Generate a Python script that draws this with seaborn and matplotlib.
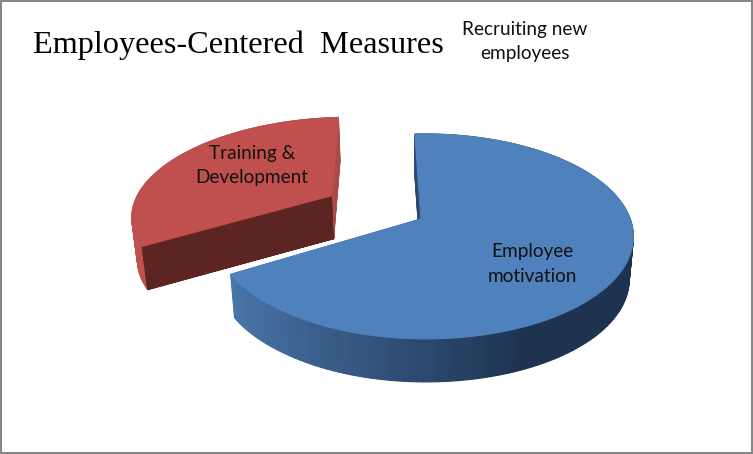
import numpy as np
import matplotlib
matplotlib.use('Agg')
import matplotlib.pyplot as plt
from matplotlib.transforms import Transform
import seaborn as sns

# slice names and sizes
labels = ['Employee\nmotivation', 'Training &\nDevelopment', 'Recruiting new\nemployees']
shares = [66.9, 33.1, 0.0]
explode = [0, 0.52, 0]
title = 'Employees-Centered  Measures'

W, H = 753, 454
START = 92
DEPTH = 43
LAYERS = 44
STEPS = 150


class TiltedDisc(Transform):
    # flat pie coordinates -> picture pixels, with a bit of perspective
    input_dims = output_dims = 2

    def __init__(self, drop=0.0):
        super().__init__()
        self.drop = drop

    def transform_non_affine(self, values):
        xy = np.asarray(values, dtype=float)
        u, v = xy[:, 0], xy[:, 1]
        w = 1 + 0.17 * v - 0.02 * u
        shrink = 1 - 0.02 * self.drop
        # far left stretches a little more
        stretched = u - 0.03 * np.clip(-u - 0.6, 0, None)
        px = 421 + 205 * stretched / w * shrink
        py = 219 - 99.5 * v / w + DEPTH * self.drop
        return np.column_stack([px, py])


sns.set_theme(style='white')
fig, ax = plt.subplots(figsize=(W / 100, H / 100), dpi=100)
fig.subplots_adjust(0, 0, 1, 1)

total = sum(shares)
frac = [s / total for s in shares]
red_start = START - frac[0] * 360
red_mid = red_start - frac[1] * 180
red_center = (explode[1] * np.cos(np.radians(red_mid)), explode[1] * np.sin(np.radians(red_mid)))

blue_side = sns.blend_palette(['#4a76ab', '#3b5f8c', '#2c4a70', '#1e3350'], 200)
red_side = sns.blend_palette(['#bd524f', '#a84a46'], 200)


def place(wedges, drop):
    tr = TiltedDisc(drop) + ax.transData
    for w in wedges:
        w.set_transform(tr)
        w.set_clip_on(False)
        w.set_edgecolor(w.get_facecolor())
        w.set_linewidth(0.8)


def side_colors(start, frac_one, center_x, palette, lo, hi):
    mids = start - (np.arange(STEPS) + 0.5) / STEPS * frac_one * 360
    t = (center_x + np.cos(np.radians(mids)) - lo) / (hi - lo)
    idx = np.clip(t * 199, 0, 199).astype(int)
    return [palette[i] for i in idx]


blue_colors = side_colors(START, frac[0], 0, blue_side, -0.88, 0.43)
red_colors = side_colors(red_start, frac[1], red_center[0], red_side, -1.25, -0.45)
blue_parts = np.full(STEPS, frac[0] / STEPS)
red_parts = np.full(STEPS, frac[1] / STEPS)

# sides, bottom layer first
for drop in np.linspace(1, 0, LAYERS):
    w, _ = ax.pie(red_parts, colors=red_colors, startangle=red_start, counterclock=False,
                  center=red_center, normalize=False, frame=True)
    place(w, drop)
    w, _ = ax.pie(blue_parts, colors=blue_colors, startangle=START, counterclock=False,
                  normalize=False, frame=True)
    place(w, drop)

# flat cut face of the pulled out slice
for drop in np.linspace(1, 0, LAYERS):
    w, _ = ax.pie([0.0008], colors=['#5c2522'], startangle=START - 360 * frac[0] + 0.2,
                  counterclock=False, center=red_center, normalize=False, frame=True)
    place(w, drop)

# top faces
w, _ = ax.pie(frac, colors=['#4f81bd', '#c0504d', '#9bbb59'], startangle=START, counterclock=False,
              explode=explode, normalize=False, frame=True)
place(w, 0)
w[2].set_visible(False)

ax.set_aspect('auto')
ax.set_xlim(0, W)
ax.set_ylim(H, 0)
ax.set_xticks([])
ax.set_yticks([])
for s in ax.spines.values():
    s.set_visible(True)
    s.set_color('#868686')
    s.set_linewidth(2.9)

ax.text(238, 45, title, family='Liberation Serif', fontsize=23.2, color='black', ha='center', va='center')
ax.text(532, 264, labels[0], family='Lato', fontsize=13.7, color='#111111', ha='center', va='center', linespacing=1.5)
ax.text(252, 165, labels[1], family='Lato', fontsize=13.7, color='#111111', ha='center', va='center', linespacing=1.5)
ax.text(525, 41, labels[2], family='Lato', fontsize=13.7, color='#111111', ha='center', va='center', linespacing=1.5)

fig.savefig('out.png', dpi=100)
